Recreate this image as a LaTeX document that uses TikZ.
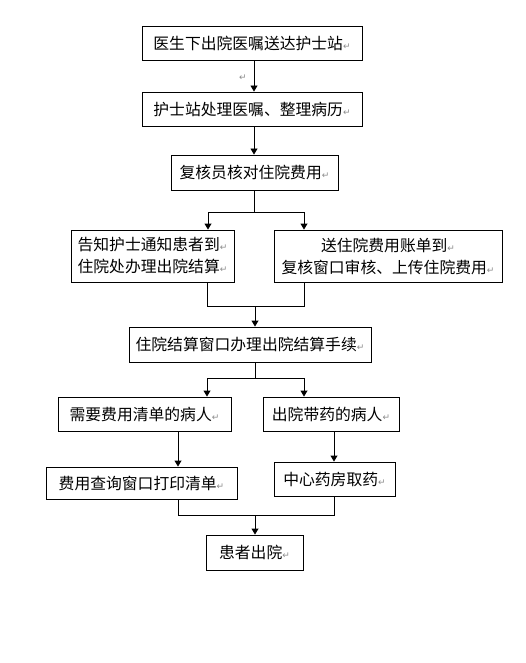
\documentclass[tikz,border=0pt]{standalone}
\usepackage{fontspec}
\usetikzlibrary{arrows.meta}
\newfontfamily\cjk{Noto Sans CJK SC}
\newfontfamily\dv{DejaVu Sans}
\newcommand\ret{{\dv\fontsize{9}{9}\selectfont\color{black!45}↵}}
\tikzset{
  box/.style={draw, line width=0.9pt, inner sep=0pt, align=center,
    font=\cjk\fontsize{15.8}{22}\selectfont},
  ln/.style={line width=0.9pt},
  arr/.style={line width=0.9pt, -{Triangle[width=7pt,length=6pt]}}
}
\begin{document}
\begin{tikzpicture}[x=1pt,y=-1pt]
\useasboundingbox (0,0) rectangle (526,663);
\fill[white] (0,0) rectangle (526,663);
% boxes
\node[box, minimum width=220pt, minimum height=34pt] (b1) at (252,43) {医生下出院医嘱送达护士站\ret};
\node[box, minimum width=220pt, minimum height=34pt] (b2) at (252,109) {护士站处理医嘱、整理病历\ret};
\node[box, minimum width=167pt, minimum height=35pt] (b3) at (254.5,172.5) {复核员核对住院费用\ret};
\node[box, minimum width=163pt, minimum height=52pt] (b4) at (152.5,256) {告知护士通知患者到\ret\\住院处办理出院结算\ret};
\node[box, minimum width=228pt, minimum height=52pt] (b5) at (388,256) {送住院费用账单到\ret\\复核窗口审核、上传住院费用\ret};
\node[box, minimum width=242pt, minimum height=35pt] (b6) at (250,344.5) {住院结算窗口办理出院结算手续\ret};
\node[box, minimum width=173pt, minimum height=34pt] (b7) at (144.5,414) {需要费用清单的病人\ret};
\node[box, minimum width=136pt, minimum height=34pt] (b8) at (331,414) {出院带药的病人\ret};
\node[box, minimum width=191pt, minimum height=32pt] (b9) at (141.5,483) {费用查询窗口打印清单\ret};
\node[box, minimum width=121pt, minimum height=34pt] (b10) at (334.5,479) {中心药房取药\ret};
\node[box, minimum width=97pt, minimum height=35pt] (b11) at (254.5,552.5) {患者出院\ret};
\node[inner sep=0pt] (stray) at (243,78) {\ret};
% junction coordinates
\coordinate (x1) at (254,0);
\coordinate (j1m) at (254,212);
\coordinate (j1l) at (208,212);
\coordinate (j1r) at (304,212);
\coordinate (j2l) at (207,306);
\coordinate (j2r) at (304,306);
\coordinate (j2m) at (255,306);
\coordinate (j3m) at (255,378);
\coordinate (j3l) at (207,378);
\coordinate (j3r) at (304,378);
\coordinate (c7) at (178,0);
\coordinate (c8) at (334,0);
\coordinate (j4l) at (178,515);
\coordinate (j4r) at (334,515);
\coordinate (j4m) at (255,515);
% connectors
\draw[arr] (b1.south -| x1) -- (b2.north -| x1);
\draw[arr] (b2.south -| x1) -- (b3.north -| x1);
\draw[ln] (b3.south -| j1m) -- (j1m);
\draw[ln] (j1l) -- (j1r);
\draw[arr] (j1l) -- (b4.north -| j1l);
\draw[arr] (j1r) -- (b5.north -| j1r);
\draw[ln] (b4.south -| j2l) -- (j2l) -- (j2r) -- (b5.south -| j2r);
\draw[arr] (j2m) -- (b6.north -| j2m);
\draw[ln] (b6.south -| j3m) -- (j3m);
\draw[ln] (j3l) -- (j3r);
\draw[arr] (j3l) -- (b7.north -| j3l);
\draw[arr] (j3r) -- (b8.north -| j3r);
\draw[arr] (b7.south -| c7) -- (b9.north -| c7);
\draw[arr] (b8.south -| c8) -- (b10.north -| c8);
\draw[ln] (b9.south -| j4l) -- (j4l) -- (j4r) -- (b10.south -| j4r);
\draw[arr] (j4m) -- (b11.north -| j4m);
\end{tikzpicture}
\end{document}
